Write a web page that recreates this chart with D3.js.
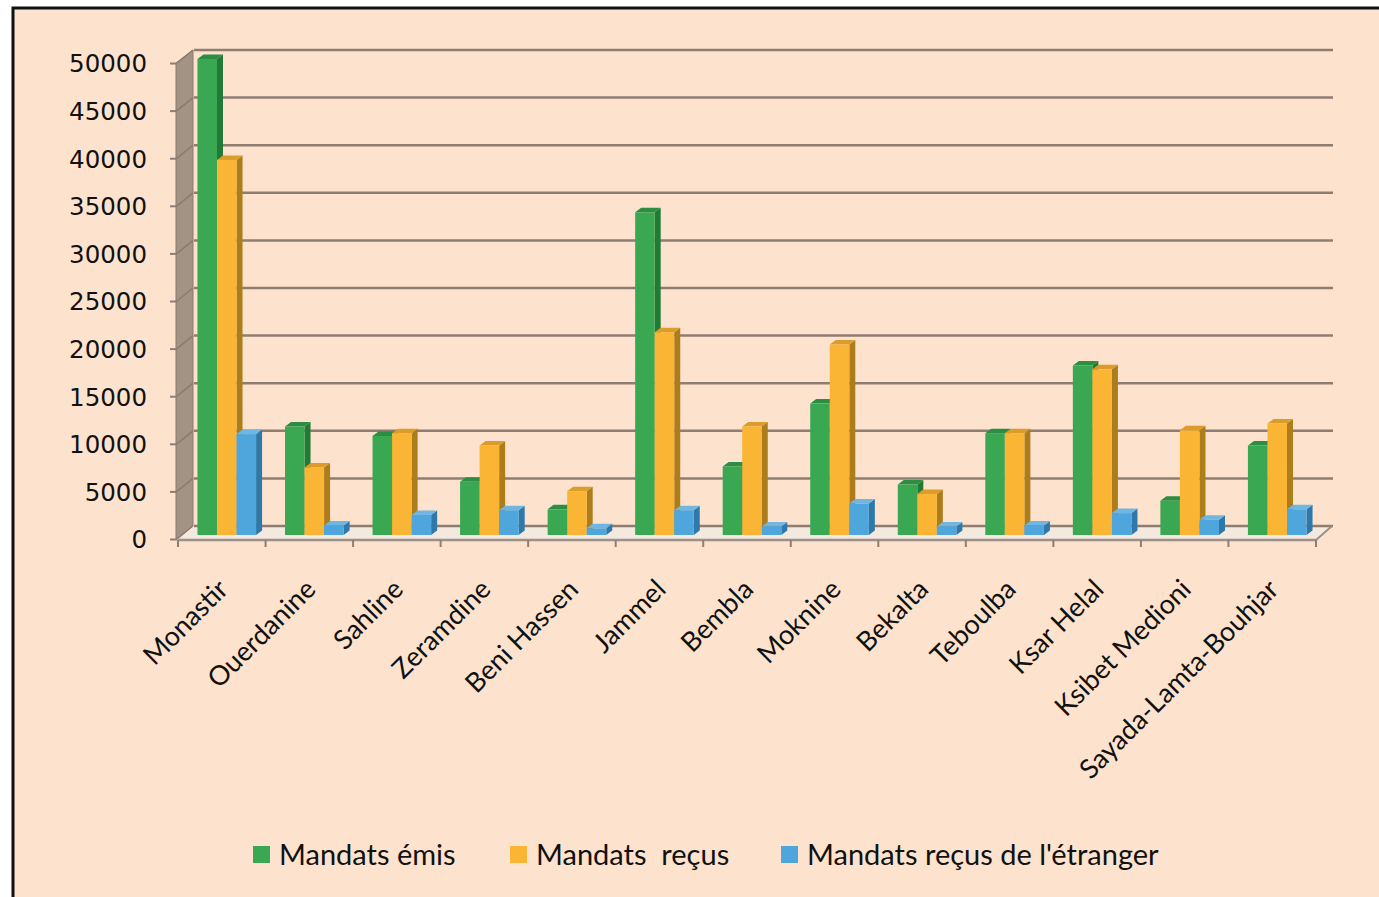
<!DOCTYPE html>
<html>
<head>
<meta charset="utf-8">
<script src="https://cdn.jsdelivr.net/npm/d3@7"></script>
<style>
  html, body { margin: 0; padding: 0; background: #ffffff; }
  svg { display: block; }
</style>
</head>
<body>
<script>
// Mandats postaux par délégation
const categories = ["Monastir", "Ouerdanine", "Sahline", "Zeramdine", "Beni Hassen", "Jammel",
  "Bembla", "Moknine", "Bekalta", "Teboulba", "Ksar Helal", "Ksibet Medioni", "Sayada-Lamta-Bouhjar"];
const mandatsEmis = [50000, 11400, 10400, 5600, 2700, 33900, 7200, 13800, 5300, 10700, 17800, 3600, 9400];
const mandatsRecus = [39400, 7100, 10700, 9400, 4600, 21300, 11400, 20000, 4300, 10700, 17400, 11000, 11700];
const mandatsEtranger = [10600, 1000, 2100, 2600, 700, 2600, 900, 3300, 900, 1000, 2300, 1600, 2700];
const seriesNames = ["Mandats émis", "Mandats  reçus", "Mandats reçus de l'étranger"];
const yTicks = [0, 5000, 10000, 15000, 20000, 25000, 30000, 35000, 40000, 45000, 50000];

const W = 1379, H = 897;
const svg = d3.select("body").append("svg").attr("width", W).attr("height", H);

// frame
svg.append("rect").attr("x", 0).attr("y", 0).attr("width", W).attr("height", H).attr("fill", "#ffffff");
svg.append("rect").attr("x", 13).attr("y", 8).attr("width", W + 20).attr("height", H + 20)
  .attr("fill", "#fde3cd").attr("stroke", "#111").attr("stroke-width", 3);

// 3D plot geometry: front plane and back wall offset
const DX = 16, DY = -13;
const x = d3.scaleBand().domain(categories).range([178, 1316]);
const y = d3.scaleLinear().domain([0, 50000]).range([539, 63]);

const gridCol = "#8e7e72";

// left side wall
const wall = svg.append("g");
wall.append("path")
  .attr("d", `M${176},${y(0)} L${176 + DX + 1},${y(0) + DY} L${176 + DX + 1},${y(50000) + DY} L${176},${y(50000)} Z`)
  .attr("fill", "#a29385").attr("stroke", "#8a7a6e").attr("stroke-width", 1);
yTicks.forEach(t => {
  wall.append("line")
    .attr("x1", 177).attr("y1", y(t)).attr("x2", 177 + DX).attr("y2", y(t) + DY)
    .attr("stroke", "#8b7b6f").attr("stroke-width", 1.5);
});

// floor
svg.append("path")
  .attr("d", `M${178},${y(0) + 1} L${1316},${y(0) + 1} L${1316 + DX},${y(0) + DY} L${178 + DX},${y(0) + DY} Z`)
  .attr("fill", "#f3e9df").attr("stroke", "none");

// back wall gridlines
svg.append("g").selectAll("line").data(yTicks).join("line")
  .attr("x1", 178 + DX).attr("x2", 1316 + DX + 1)
  .attr("y1", d => y(d) + DY).attr("y2", d => y(d) + DY)
  .attr("stroke", gridCol).attr("stroke-width", 2.5);

// bars (drawn as 3D boxes sitting mid-depth)
const series = [mandatsEmis, mandatsRecus, mandatsEtranger];
const colors = [
  { front: "#3aa853", side: "#217a35", top: "#2b8e42" },
  { front: "#fbb534", side: "#ad7d1c", top: "#dc9c2a" },
  { front: "#4ea6dc", side: "#2e78aa", top: "#6fb6e2" }
];
const inner = d3.scaleBand().domain([0, 1, 2]).range([0, x.bandwidth()]).paddingOuter(0.74).paddingInner(0);
const BX = 5, BY = -4, bdx = 6, bdy = -4.5;

const barsG = svg.append("g");
categories.forEach((c, i) => {
  series.forEach((s, k) => {
    const v = s[i];
    const x0 = x(c) + inner(k) + BX;
    const w = inner.bandwidth();
    const y0 = y(0) + BY;
    const yt = y(v) + BY;
    const g = barsG.append("g");
    // side
    g.append("path")
      .attr("d", `M${x0 + w},${y0} L${x0 + w + bdx},${y0 + bdy} L${x0 + w + bdx},${yt + bdy} L${x0 + w},${yt} Z`)
      .attr("fill", colors[k].side);
    // top
    g.append("path")
      .attr("d", `M${x0},${yt} L${x0 + bdx},${yt + bdy} L${x0 + w + bdx},${yt + bdy} L${x0 + w},${yt} Z`)
      .attr("fill", colors[k].top);
    // front
    g.append("rect").attr("x", x0).attr("y", yt).attr("width", w).attr("height", y0 - yt)
      .attr("fill", colors[k].front);
  });
});

// front floor edge and x ticks
svg.append("line").attr("x1", 178).attr("x2", 1316).attr("y1", y(0) + 1).attr("y2", y(0) + 1)
  .attr("stroke", "#9c9088").attr("stroke-width", 2.5);
svg.append("line").attr("x1", 1316).attr("y1", y(0) + 1).attr("x2", 1316 + DX).attr("y2", y(0) + DY)
  .attr("stroke", "#9c9088").attr("stroke-width", 2);
const xTickPos = categories.map(c => x(c)).concat([x.range()[1]]);
svg.append("g").selectAll("line").data(xTickPos).join("line")
  .attr("x1", d => d).attr("x2", d => d).attr("y1", y(0) + 1).attr("y2", y(0) + 8)
  .attr("stroke", "#8a7f78").attr("stroke-width", 2);

// y axis ticks and labels
const yAxis = d3.axisLeft(y).tickValues(yTicks).tickSize(7).tickPadding(23).tickFormat(d3.format("d"));
const ya = svg.append("g").attr("transform", "translate(177,0)").call(yAxis);
ya.select(".domain").remove();
ya.selectAll(".tick line").attr("stroke", "#8a7f78").attr("stroke-width", 2);
ya.selectAll(".tick text").attr("fill", "#111").attr("font-family", "DejaVu Sans, Verdana, sans-serif")
  .attr("font-size", 24.5).attr("dy", "0.36em");

// category labels
svg.append("g").selectAll("text").data(categories).join("text")
  .attr("transform", d => `translate(${x(d) + x.bandwidth() / 2 + 8},${y(0) + 52}) rotate(-45)`)
  .attr("text-anchor", "end")
  .attr("font-family", "Lato, sans-serif").attr("font-size", 27).attr("fill", "#111")
  .text(d => d);

// legend
const legendItems = [
  { name: seriesNames[0], color: colors[0].front, x: 253 },
  { name: seriesNames[1], color: colors[1].front, x: 510 },
  { name: seriesNames[2], color: colors[2].front, x: 781 }
];
const lg = svg.append("g");
legendItems.forEach(it => {
  lg.append("rect").attr("x", it.x).attr("y", 846).attr("width", 17).attr("height", 17).attr("fill", it.color);
  lg.append("text").attr("x", it.x + 26).attr("y", 865).attr("font-family", "Lato, sans-serif")
    .attr("font-size", 29).attr("fill", "#111").style("white-space", "pre").text(it.name);
});
</script>
</body>
</html>
